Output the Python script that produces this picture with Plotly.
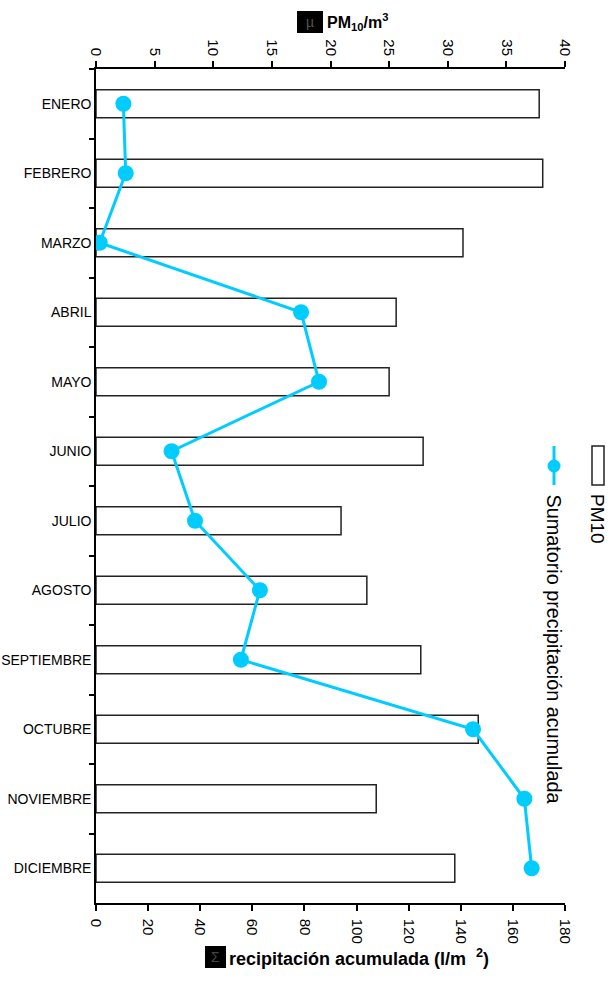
import plotly.graph_objects as go

months = ["ENERO", "FEBRERO", "MARZO", "ABRIL", "MAYO", "JUNIO", "JULIO",
          "AGOSTO", "SEPTIEMBRE", "OCTUBRE", "NOVIEMBRE", "DICIEMBRE"]
pm10 = [37.8, 38.1, 31.3, 25.6, 25.0, 27.9, 20.9, 23.1, 27.7, 32.6, 23.9, 30.6]
precip = [10.5, 11.4, 1.4, 78.7, 85.6, 29.0, 38.0, 62.9, 55.6, 144.7, 164.4, 167.2]

pm_ticks = [0, 5, 10, 15, 20, 25, 30, 35, 40]
pr_ticks = [0, 20, 40, 60, 80, 100, 120, 140, 160, 180]

FONT = "Liberation Sans, Arial, Helvetica, sans-serif"
CYAN = "#00CCFF"

W, H = 615, 981
L, R, T, B = 96, 50, 69, 78
pw, ph = W - L - R, H - T - B


def px(x):
    return (x - L) / pw


def py(y):
    return (H - B - y) / ph


fig = go.Figure()

fig.add_trace(go.Bar(
    y=months, x=pm10, orientation="h", name="PM10",
    xaxis="x", yaxis="y",
    marker=dict(color="white", line=dict(color="#222222", width=1.5)),
    showlegend=False,
))

fig.add_trace(go.Scatter(
    y=months, x=precip, mode="lines+markers",
    name="Sumatorio precipitación acumulada",
    xaxis="x2", yaxis="y",
    line=dict(color=CYAN, width=3),
    marker=dict(color=CYAN, size=16),
    showlegend=False,
))

axis_common = dict(
    showgrid=False, zeroline=False, showline=True, linecolor="black",
    linewidth=1.5, ticks="outside", ticklen=6, tickwidth=1.5, tickcolor="black",
    tickangle=90, tickfont=dict(family=FONT, size=15, color="black"),
    automargin=False,
)

fig.update_layout(
    width=W, height=H,
    margin=dict(l=L, r=R, t=T, b=B, autoexpand=False),
    paper_bgcolor="white", plot_bgcolor="white",
    font=dict(family=FONT, color="black"),
    bargap=0.6,
    xaxis=dict(side="top", range=[0, 40], tickvals=pm_ticks, **axis_common),
    xaxis2=dict(side="bottom", overlaying="x", range=[0, 180], tickvals=pr_ticks,
                anchor="y", ticklabelstandoff=5, **axis_common),
    yaxis=dict(type="category", categoryorder="array", categoryarray=months,
               range=[11.5, -0.5], showgrid=False, zeroline=False, showline=True,
               linecolor="black", linewidth=1.5, ticks="outside", ticklen=5,
               tickwidth=1.5, tickcolor="black", tickson="boundaries",
               automargin=False,
               tickfont=dict(family=FONT, size=14, color="black")),
    showlegend=False,
)

shapes = []
annotations = []

# top axis title: black glyph box + text
shapes.append(dict(type="rect", xref="paper", yref="paper",
                   x0=px(297), x1=px(323), y0=py(33), y1=py(11),
                   fillcolor="black", line=dict(width=0)))
annotations.append(dict(xref="paper", yref="paper", x=px(310), y=py(22),
                        text="µ", showarrow=False, xanchor="center", yanchor="middle",
                        font=dict(family=FONT, size=14, color="#555555")))
annotations.append(dict(xref="paper", yref="paper", x=px(325), y=py(22),
                        text="<b>PM<sub>10</sub>/m<sup>3</sup></b>", showarrow=False,
                        xanchor="left", yanchor="middle",
                        font=dict(family=FONT, size=16, color="black")))

# bottom axis title
shapes.append(dict(type="rect", xref="paper", yref="paper",
                   x0=px(205), x1=px(226), y0=py(968), y1=py(946),
                   fillcolor="black", line=dict(width=0)))
annotations.append(dict(xref="paper", yref="paper", x=px(215.5), y=py(957),
                        text="Σ", showarrow=False, xanchor="center", yanchor="middle",
                        font=dict(family=FONT, size=14, color="#444444")))
annotations.append(dict(xref="paper", yref="paper", x=px(227), y=py(957),
                        text="<b>recipitación acumulada (l/m  <sup>2</sup>)</b>",
                        showarrow=False, xanchor="left", yanchor="middle",
                        font=dict(family=FONT, size=18, color="black")))

# rotated legend
shapes.append(dict(type="rect", xref="paper", yref="paper",
                   x0=px(592), x1=px(604), y0=py(485), y1=py(446),
                   fillcolor="white", line=dict(color="#222222", width=1.5)))
shapes.append(dict(type="line", xref="paper", yref="paper",
                   x0=px(554), x1=px(554), y0=py(485), y1=py(446),
                   line=dict(color=CYAN, width=3)))
shapes.append(dict(type="circle", xref="paper", yref="paper",
                   x0=px(547.5), x1=px(560.5), y0=py(472.5), y1=py(459.5),
                   fillcolor=CYAN, line=dict(width=0)))
annotations.append(dict(xref="paper", yref="paper", x=px(598), y=py(492),
                        text="PM10", textangle=90, showarrow=False,
                        xanchor="center", yanchor="top",
                        font=dict(family=FONT, size=19, color="black")))
annotations.append(dict(xref="paper", yref="paper", x=px(554), y=py(492),
                        text="Sumatorio precipitación acumulada", textangle=90,
                        showarrow=False, xanchor="center", yanchor="top",
                        font=dict(family=FONT, size=19.8, color="black")))

fig.update_layout(shapes=shapes, annotations=annotations)

fig.write_html(
    "out.html",
    config={"displayModeBar": False},
    post_script="document.body.style.margin='0';document.body.style.overflow='hidden';",
)
